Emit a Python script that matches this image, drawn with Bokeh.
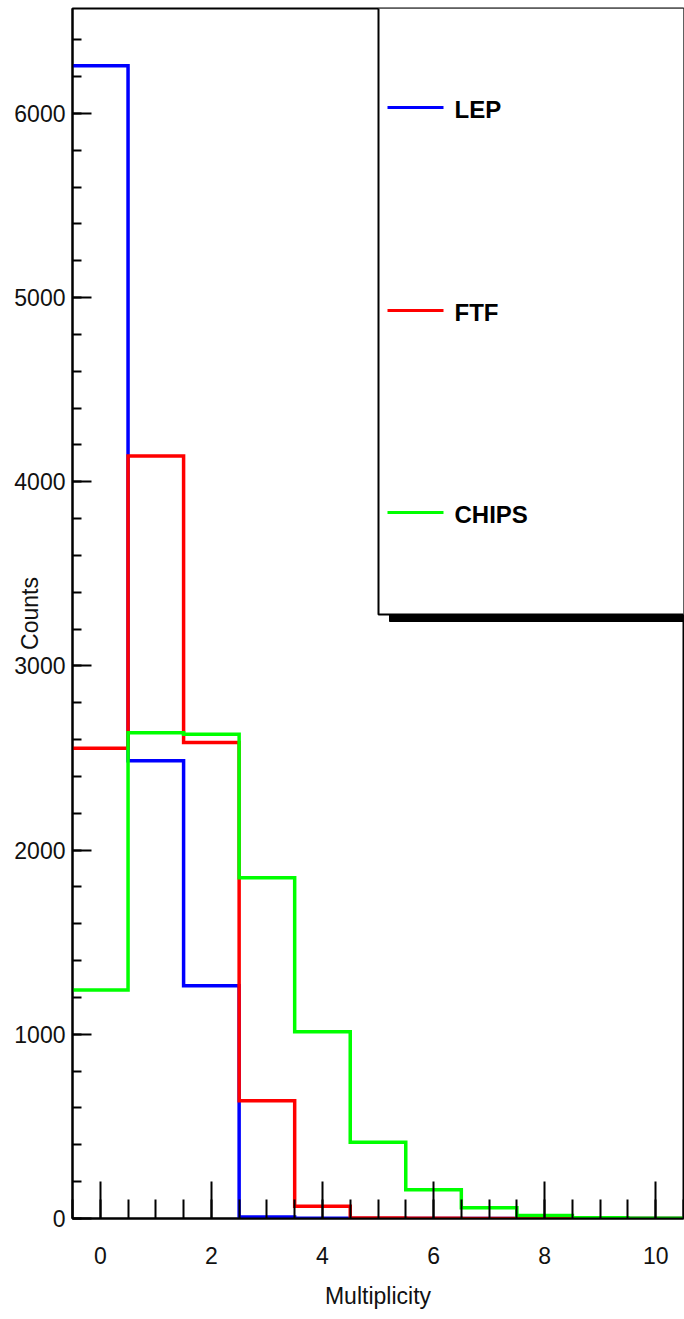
import numpy as np
from bokeh.plotting import figure
from bokeh.models import Range1d, SingleIntervalTicker
from bokeh.core.properties import value
from bokeh.embed import file_html
from bokeh.resources import INLINE

# Multiplicity bins (integer centres, unit width)
bin_centres = list(range(0, 11))
lep_counts = [6259, 2485, 1264, 8, 1, 0, 0, 0, 0, 0, 0]
ftf_counts = [2553, 4140, 2584, 640, 67, 3, 1, 0, 0, 0, 0]
chips_counts = [1241, 2638, 2629, 1850, 1014, 414, 156, 58, 16, 4, 1]

series_names = ["LEP", "FTF", "CHIPS"]
series_colors = ["#0000ff", "#ff0000", "#00ff00"]
series_counts = [lep_counts, ftf_counts, chips_counts]

x_lo, x_hi = -0.5, 10.5
y_lo, y_hi = 0, 6570

W, H = 684, 1319
left, right, top, bottom = 72, 1, 8, 101
frame_w = W - left - right
frame_h = H - top - bottom

FONT = "Liberation Sans"

p = figure(width=W, height=H, output_backend="svg", toolbar_location=None,
           x_range=Range1d(x_lo, x_hi), y_range=Range1d(y_lo, y_hi),
           min_border_left=left, min_border_right=right,
           min_border_top=top, min_border_bottom=bottom,
           background_fill_color="white", border_fill_color="white")
p.grid.visible = False
p.outline_line_color = "black"
p.outline_line_width = 2


def px_to_x(px):
    return x_lo + (px - left) * (x_hi - x_lo) / frame_w


def py_to_y(py):
    return y_lo + (top + frame_h - py) * (y_hi - y_lo) / frame_h


# histogram outlines drawn as steps over the bin edges
edges = np.array(bin_centres + [bin_centres[-1] + 1]) - 0.5
for name, color, counts in zip(series_names, series_colors, series_counts):
    xs = np.repeat(edges, 2)[1:]
    ys = np.concatenate([np.repeat(counts, 2), [0]])
    p.line(xs, ys, line_color=color, line_width=3.5, line_join="miter")

# axes, ROOT-like inward ticks
xa = p.xaxis[0]
xa.ticker = SingleIntervalTicker(interval=2, num_minor_ticks=4)
xa.major_tick_in = 37
xa.major_tick_out = 0
xa.minor_tick_in = 19
xa.minor_tick_out = 0
xa.axis_line_width = 2
xa.major_tick_line_width = 2
xa.minor_tick_line_width = 2
xa.major_label_text_font = FONT
xa.major_label_text_font_size = "23px"
xa.major_label_text_color = "#111111"
xa.major_label_standoff = 28
xa.axis_label = "Multiplicity"
xa.axis_label_text_font = FONT
xa.axis_label_text_font_style = "normal"
xa.axis_label_text_font_size = "23px"
xa.axis_label_text_color = "#111111"
xa.axis_label_standoff = 16

ya = p.yaxis[0]
ya.ticker = SingleIntervalTicker(interval=1000, num_minor_ticks=5)
ya.major_tick_in = 19
ya.major_tick_out = 0
ya.minor_tick_in = 9
ya.minor_tick_out = 0
ya.axis_line_width = 2
ya.major_tick_line_width = 2
ya.minor_tick_line_width = 2
ya.major_label_text_font = FONT
ya.major_label_text_font_size = "23px"
ya.major_label_text_color = "#111111"
ya.major_label_standoff = 7
ya.axis_label = "Counts"
ya.axis_label_text_font = FONT
ya.axis_label_text_font_style = "normal"
ya.axis_label_text_font_size = "23px"
ya.axis_label_text_color = "#111111"
ya.axis_label_standoff = -32

# legend panel with drop shadow
box_l, box_r, box_t, box_b = 378, 684, 7, 614
shadow_dx, shadow_dy = 11, 7
p.quad(left=[px_to_x(box_l + shadow_dx)], right=[px_to_x(box_r + shadow_dx)],
       top=[py_to_y(box_t + shadow_dy)], bottom=[py_to_y(box_b + shadow_dy)],
       fill_color="black", line_color="black")
p.quad(left=[px_to_x(box_l)], right=[px_to_x(box_r)],
       top=[py_to_y(box_t)], bottom=[py_to_y(box_b)],
       fill_color="white", line_color="black", line_width=2)

entry_rows = [107, 310, 512]
for name, color, row in zip(series_names, series_colors, entry_rows):
    p.segment(x0=[px_to_x(387)], x1=[px_to_x(443)], y0=[py_to_y(row)], y1=[py_to_y(row)],
              line_color=color, line_width=3)
    p.text(x=[px_to_x(454)], y=[py_to_y(row + 2)], text=[name],
           text_font=value(FONT), text_font_style="bold", text_font_size="24px",
           text_align="left", text_baseline="middle", text_color="black")

with open("out.html", "w") as f:
    f.write(file_html(p, INLINE))
